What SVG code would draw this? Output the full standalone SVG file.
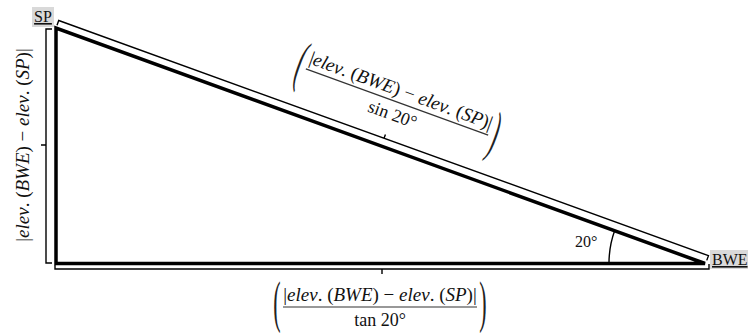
<svg xmlns="http://www.w3.org/2000/svg" width="748" height="333" viewBox="0 0 748 333">
<style>
.thick{fill:none;stroke:#000;stroke-width:3.5;stroke-linejoin:miter}
.br{fill:none;stroke:#000;stroke-width:1.4}
.fl{stroke:#333;stroke-width:1.2}
.t{font-family:"Liberation Serif","Times New Roman",serif;fill:#111}
.num{font-size:19px}
.den{font-size:18px}
.i{font-style:italic}
.par{font-size:58px;fill:#222}
.lab{font-size:16px;text-decoration:underline}
.box{fill:#d9d9d9}
</style>
<rect width="748" height="333" fill="#fff"/>

<g id="connectors">
  <path class="thick" d="M56,28 V263.5 H705 Z"/>
  <path class="br" d="M52,29 H46 V263 H52 M46,145 H41"/>
  <path class="br" d="M55,265 V269 H709 V264 M382,269 V274"/>
  <g transform="translate(56,28) rotate(19.9)">
    <path class="br" d="M0,-3 V-8 H691 V-3 M346,-8 V-12"/>
  </g>
  <path class="br" d="M609,263.5 A96,96 0 0 1 614.8,230.3"/>
</g>

<g id="node-SP">
  <rect class="box" x="32" y="7" width="22" height="20"/>
  <text class="t lab" x="43" y="22" text-anchor="middle">SP</text>
</g>

<g id="node-BWE">
  <rect class="box" x="710" y="250" width="38" height="19"/>
  <text class="t lab" x="712" y="265">BWE</text>
</g>

<g id="angle-label">
  <text class="t" x="575" y="247" font-size="16">20°</text>
</g>

<g id="label-vertical" transform="translate(29,145) rotate(-90)">
  <text class="t num" x="0" y="0" text-anchor="middle">|<tspan class="i">elev</tspan>. (<tspan class="i">BWE</tspan>) − <tspan class="i">elev</tspan>. (<tspan class="i">SP</tspan>)|</text>
</g>

<g id="label-hypotenuse" transform="translate(397,102) rotate(20)">
  <text class="t par" transform="translate(-103,14) scale(0.38,1)" text-anchor="middle">(</text>
  <text class="t num" x="0" y="-6" text-anchor="middle">|<tspan class="i">elev</tspan>. (<tspan class="i">BWE</tspan>) − <tspan class="i">elev</tspan>. (<tspan class="i">SP</tspan>)|</text>
  <line class="fl" x1="-97" y1="0" x2="97" y2="0"/>
  <text class="t den" x="0" y="19" text-anchor="middle">sin 20°</text>
  <text class="t par" transform="translate(103,14) scale(0.38,1)" text-anchor="middle">)</text>
</g>

<g id="label-bottom" transform="translate(380,307)">
  <text class="t par" transform="translate(-103,14) scale(0.38,1)" text-anchor="middle">(</text>
  <text class="t num" x="0" y="-6" text-anchor="middle">|<tspan class="i">elev</tspan>. (<tspan class="i">BWE</tspan>) − <tspan class="i">elev</tspan>. (<tspan class="i">SP</tspan>)|</text>
  <line class="fl" x1="-97" y1="0" x2="97" y2="0"/>
  <text class="t den" x="0" y="19" text-anchor="middle">tan 20°</text>
  <text class="t par" transform="translate(103,14) scale(0.38,1)" text-anchor="middle">)</text>
</g>
</svg>
